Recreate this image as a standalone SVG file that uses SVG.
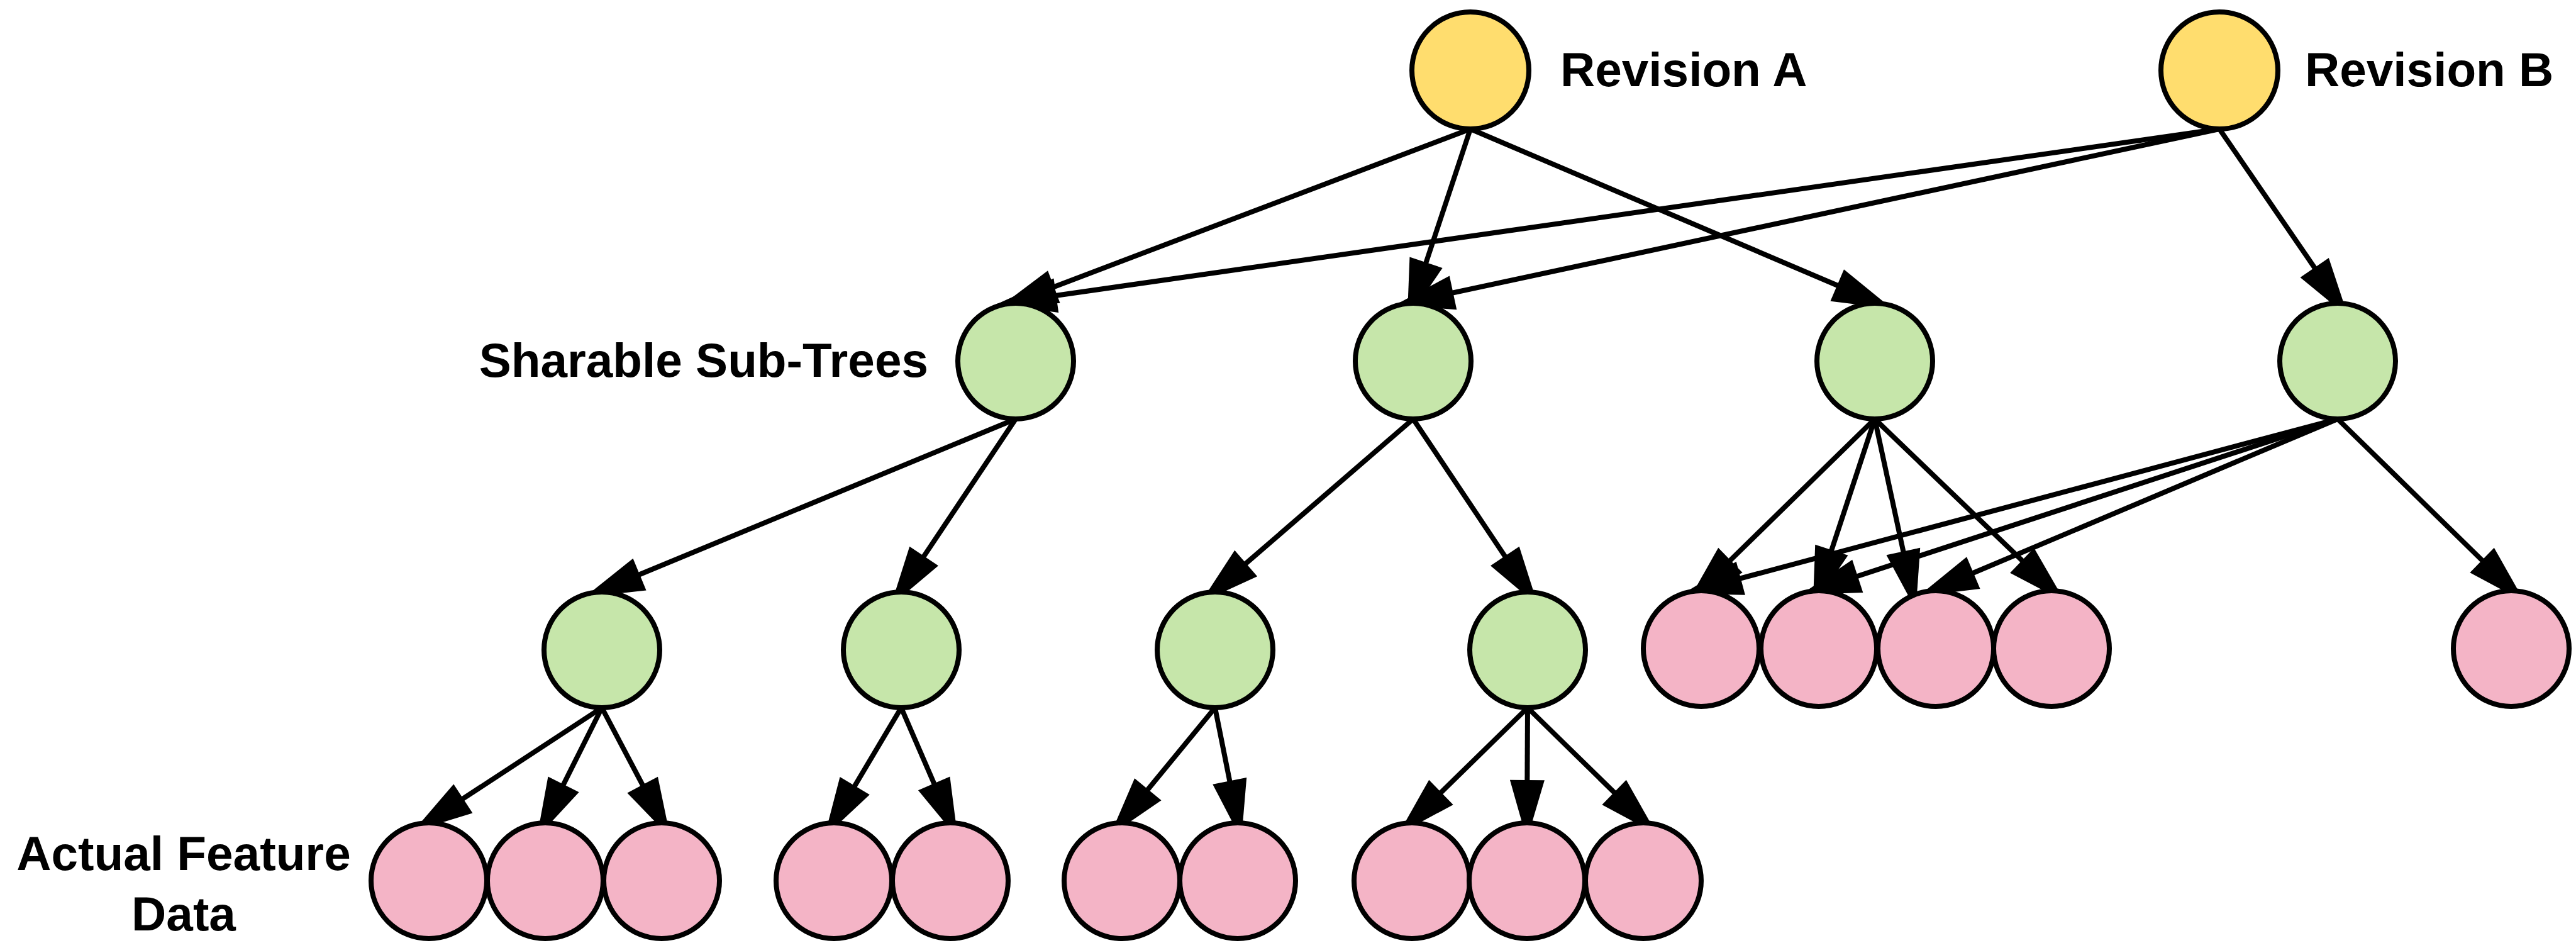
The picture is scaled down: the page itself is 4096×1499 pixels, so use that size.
<svg xmlns="http://www.w3.org/2000/svg" width="4096" height="1499" viewBox="0 0 4096 1499">
  <style>
    .rev { fill: #FFDD6E; stroke: #000; stroke-width: 8; }
    .sub { fill: #C6E6AA; stroke: #000; stroke-width: 8; }
    .leaf { fill: #F4B4C6; stroke: #000; stroke-width: 8; }
    .lbl { font-family: "Liberation Sans", Arial, Helvetica, sans-serif; font-weight: bold; font-size: 76.5px; fill: #000; }
    .edge { fill: none; stroke: #000; stroke-width: 8; marker-end: url(#arrow); }
  </style>
  <defs>
    <!-- filled arrowhead; its point runs on under the target circle -->
    <marker id="arrow" markerUnits="userSpaceOnUse" viewBox="0 -30 100 60" markerWidth="100" markerHeight="60" refX="35" refY="0" orient="auto" overflow="visible">
      <path d="M0,-27.5 L95,0 L0,27.5 Z" fill="#000"/>
    </marker>
  </defs>
  <rect width="4096" height="1499" fill="#fff"/>

  <!-- connectors, drawn below the nodes -->
  <g id="connectors">
    <path class="edge" d="M2338,205 L1643.1,468.4"/>
    <path class="edge" d="M2338,205 L2256.5,450.5"/>
    <path class="edge" d="M2338,205 L2953.4,467.2"/>
    <path class="edge" d="M3529,205 L1644.7,474.7"/>
    <path class="edge" d="M3529,205 L2276.3,472.7"/>
    <path class="edge" d="M3529,205 L3700.0,454.3"/>

    <path class="edge" d="M1615,666 L984.7,926.5"/>
    <path class="edge" d="M1615,666 L1449.7,913.1"/>
    <path class="edge" d="M2247,666 L1954.7,918.4"/>
    <path class="edge" d="M2247,666 L2412.3,913.1"/>

    <path class="edge" d="M2981,666 L2726.4,915.0"/>
    <path class="edge" d="M2981,666 L2901.4,907.5"/>
    <path class="edge" d="M2981,666 L3033.7,910.7"/>
    <path class="edge" d="M2981,666 L3240.4,915.2"/>

    <path class="edge" d="M3717,666 L2734.0,928.3"/>
    <path class="edge" d="M3717,666 L2920.5,926.7"/>
    <path class="edge" d="M3717,666 L3105.6,924.3"/>
    <path class="edge" d="M3717,666 L3971.6,915.0"/>

    <path class="edge" d="M957,1125 L707.1,1288.6"/>
    <path class="edge" d="M957,1125 L880.4,1278.2"/>
    <path class="edge" d="M957,1125 L1038.0,1278.5"/>
    <path class="edge" d="M1433,1125 L1341.3,1279.2"/>
    <path class="edge" d="M1433,1125 L1499.1,1277.5"/>
    <path class="edge" d="M1932,1125 L1803.1,1281.8"/>
    <path class="edge" d="M1932,1125 L1962.1,1275.6"/>
    <path class="edge" d="M2429,1125 L2266.4,1284.0"/>
    <path class="edge" d="M2429,1125 L2428.2,1275.0"/>
    <path class="edge" d="M2429,1125 L2591.6,1284.0"/>
  </g>

  <!-- revisions -->
  <g id="revision-a">
    <circle class="rev" cx="2338" cy="112" r="93"/>
    <text class="lbl" x="2481" y="137">Revision A</text>
  </g>
  <g id="revision-b">
    <circle class="rev" cx="3529" cy="112" r="93"/>
    <text class="lbl" x="3665" y="137">Revision B</text>
  </g>

  <!-- sharable sub-trees -->
  <g id="label-subtrees">
    <text class="lbl" x="1476" y="599" text-anchor="end">Sharable Sub-Trees</text>
  </g>
  <g id="tree-1"><circle class="sub" cx="1615" cy="574" r="92"/></g>
  <g id="tree-2"><circle class="sub" cx="2247" cy="574" r="92"/></g>
  <g id="tree-3"><circle class="sub" cx="2981" cy="574" r="92"/></g>
  <g id="tree-4"><circle class="sub" cx="3717" cy="574" r="92"/></g>

  <g id="tree-1-1"><circle class="sub" cx="957" cy="1033" r="92"/></g>
  <g id="tree-1-2"><circle class="sub" cx="1433" cy="1033" r="92"/></g>
  <g id="tree-2-1"><circle class="sub" cx="1932" cy="1033" r="92"/></g>
  <g id="tree-2-2"><circle class="sub" cx="2429" cy="1033" r="92"/></g>

  <!-- feature data -->
  <g id="feature-3-1"><circle class="leaf" cx="2705" cy="1031" r="92"/></g>
  <g id="feature-3-2"><circle class="leaf" cx="2892" cy="1031" r="92"/></g>
  <g id="feature-3-3"><circle class="leaf" cx="3078" cy="1031" r="92"/></g>
  <g id="feature-3-4"><circle class="leaf" cx="3262" cy="1031" r="92"/></g>
  <g id="feature-4-1"><circle class="leaf" cx="3993" cy="1031" r="92"/></g>

  <g id="label-features">
    <text class="lbl" x="292" y="1383" text-anchor="middle">Actual Feature</text>
    <text class="lbl" x="292" y="1479" text-anchor="middle">Data</text>
  </g>
  <g id="feature-11-1"><circle class="leaf" cx="682" cy="1400" r="92"/></g>
  <g id="feature-11-2"><circle class="leaf" cx="867" cy="1400" r="92"/></g>
  <g id="feature-11-3"><circle class="leaf" cx="1052" cy="1400" r="92"/></g>
  <g id="feature-12-1"><circle class="leaf" cx="1326" cy="1400" r="92"/></g>
  <g id="feature-12-2"><circle class="leaf" cx="1511" cy="1400" r="92"/></g>
  <g id="feature-21-1"><circle class="leaf" cx="1784" cy="1400" r="92"/></g>
  <g id="feature-21-2"><circle class="leaf" cx="1968" cy="1400" r="92"/></g>
  <g id="feature-22-1"><circle class="leaf" cx="2245" cy="1400" r="92"/></g>
  <g id="feature-22-2"><circle class="leaf" cx="2428" cy="1400" r="92"/></g>
  <g id="feature-22-3"><circle class="leaf" cx="2613" cy="1400" r="92"/></g>
</svg>
